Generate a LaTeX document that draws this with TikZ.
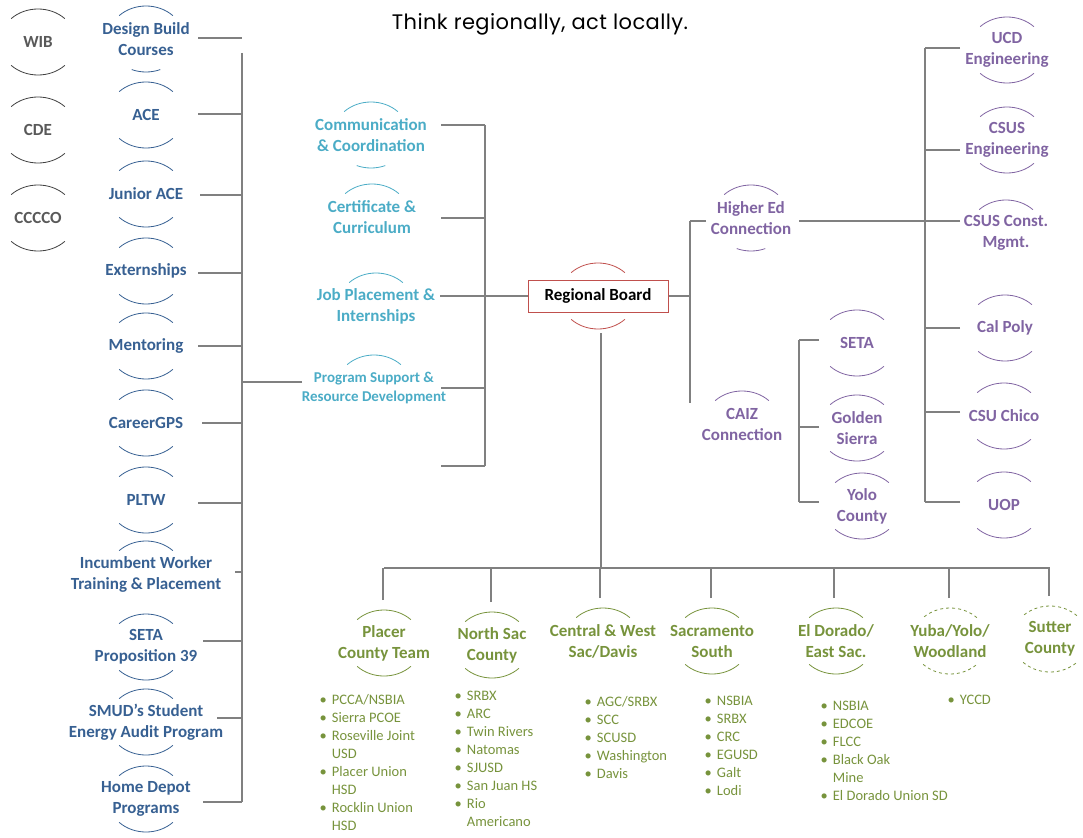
\documentclass[tikz,border=0pt]{standalone}
\usepackage{fontspec}
\setmainfont{Carlito}
\newfontfamily\titlefont[LetterSpace=2]{Poppins}
\definecolor{navy}{RGB}{55,96,146}
\definecolor{aqua}{RGB}{75,172,198}
\definecolor{plum}{RGB}{128,100,162}
\definecolor{leaf}{RGB}{119,147,60}
\definecolor{brick}{RGB}{192,80,77}
\definecolor{slate}{RGB}{89,89,89}
\definecolor{wire}{RGB}{128,128,128}

\tikzset{
  box/.style={font=\bfseries\fontsize{17}{21}\selectfont, align=center, inner sep=0pt},
  link/.style={draw=wire, line width=1.2pt},
  arcline/.style={line width=0.8pt},
  list/.style={text=leaf, font=\fontsize{14.5}{18}\selectfont, inner sep=0pt, anchor=north west},
}
% arcs above and below a node
\newcommand{\topcap}[2]{\draw[arcline,#2] ([shift={(45:38pt and 33pt)}]#1.center) arc[start angle=45,end angle=135,x radius=38pt,y radius=33pt];}
\newcommand{\botcap}[2]{\draw[arcline,#2] ([shift={(225:38pt and 33pt)}]#1.center) arc[start angle=225,end angle=315,x radius=38pt,y radius=33pt];}
\newcommand{\botnarrow}[2]{\draw[arcline,#2] ([shift={(248:38pt and 33pt)}]#1.center) arc[start angle=248,end angle=292,x radius=38pt,y radius=33pt];}
\newcommand{\ring}[2]{\topcap{#1}{#2}\botcap{#1}{#2}}
\newcommand{\li}[1]{\textbullet & #1\\}
\newcommand{\lc}[1]{& #1\\}

\begin{document}
\begin{tikzpicture}[x=1pt,y=-1pt]
  \useasboundingbox (0,0) rectangle (1083,837);

  \node[font=\titlefont\fontsize{21}{25}\selectfont] (title) at (540,24) {Think regionally, act locally.};

  % partners
  \node[box, text=slate] (wib) at (38,42) {WIB};
  \node[box, text=slate] (cde) at (38,130) {CDE};
  \node[box, text=slate] (cccco) at (38,218) {CCCCO};

  % programs
  \node[box, text=navy] (design) at (146,39) {Design Build\\Courses};
  \node[box, text=navy] (ace) at (146,115) {ACE};
  \node[box, text=navy] (junior) at (146,194) {Junior ACE};
  \node[box, text=navy] (extern) at (146,271) {Externships};
  \node[box, text=navy] (mentor) at (146,346) {Mentoring};
  \node[box, text=navy] (career) at (146,423) {CareerGPS};
  \node[box, text=navy] (pltw) at (146,500) {PLTW};
  \node[box, text=navy] (incumb) at (146,574) {Incumbent Worker\\Training \& Placement};
  \node[box, text=navy] (seta39) at (146,647) {SETA\\Proposition 39};
  \node[box, text=navy] (smud) at (146,722) {SMUD’s Student\\Energy Audit Program};
  \node[box, text=navy] (home) at (146,799) {Home Depot\\Programs};

  % committees
  \node[box, text=aqua] (comm) at (371,135) {Communication\\\& Coordination};
  \node[box, text=aqua] (cert) at (372,217) {Certificate \&\\Curriculum};
  \node[box, text=aqua] (job) at (376,306) {Job Placement \&\\Internships};
  \node[box, text=aqua, font=\bfseries\fontsize{15}{19}\selectfont] (prog) at (374,388) {Program Support \&\\Resource Development};

  \node[box, text=black, draw=brick, line width=1pt, fill=white, minimum width=140pt, minimum height=32pt] (board) at (598,296) {Regional Board};

  % higher ed
  \node[box, text=plum] (higher) at (751,218) {Higher Ed\\Connection};
  \node[box, text=plum] (caiz) at (742,424) {CAIZ\\Connection};
  \node[box, text=plum] (ucd) at (1007,50) {UCD\\Engineering};
  \node[box, text=plum] (csuseng) at (1007,140) {CSUS\\Engineering};
  \node[box, text=plum] (csuscm) at (1006,233) {CSUS Const.\\Mgmt.};
  \node[box, text=plum] (calpoly) at (1005,328) {Cal Poly};
  \node[box, text=plum] (chico) at (1004,416) {CSU Chico};
  \node[box, text=plum] (uop) at (1004,505) {UOP};
  \node[box, text=plum] (seta) at (857,343) {SETA};
  \node[box, text=plum] (golden) at (857,428) {Golden\\Sierra};
  \node[box, text=plum] (yolo) at (862,506) {Yolo\\County};

  % local teams
  \node[box, text=leaf] (placer) at (384,643) {Placer\\County Team};
  \node[box, text=leaf] (northsac) at (492,645) {North Sac\\County};
  \node[box, text=leaf] (central) at (603,641) {Central \& West\\Sac/Davis};
  \node[box, text=leaf] (sacsouth) at (712,641) {Sacramento\\South};
  \node[box, text=leaf] (eldorado) at (836,641) {El Dorado/\\East Sac.};
  \node[box, text=leaf] (yuba) at (950,641) {Yuba/Yolo/\\Woodland};
  \node[box, text=leaf] (sutter) at (1050,639) {Sutter\\County};

  \node[list] (placerlist) at (319.5,692) {\begin{tabular}{@{}l@{\hspace{5pt}}l@{}}
    \li{PCCA/NSBIA}\li{Sierra PCOE}\li{Roseville Joint}\lc{USD}\li{Placer Union}\lc{HSD}\li{Rocklin Union}\lc{HSD}\end{tabular}};
  \node[list] (northlist) at (454.5,688) {\begin{tabular}{@{}l@{\hspace{5pt}}l@{}}
    \li{SRBX}\li{ARC}\li{Twin Rivers}\li{Natomas}\li{SJUSD}\li{San Juan HS}\li{Rio}\lc{Americano}\end{tabular}};
  \node[list] (centrallist) at (584.5,694) {\begin{tabular}{@{}l@{\hspace{5pt}}l@{}}
    \li{AGC/SRBX}\li{SCC}\li{SCUSD}\li{Washington}\li{Davis}\end{tabular}};
  \node[list] (southlist) at (704.5,693) {\begin{tabular}{@{}l@{\hspace{5pt}}l@{}}
    \li{NSBIA}\li{SRBX}\li{CRC}\li{EGUSD}\li{Galt}\li{Lodi}\end{tabular}};
  \node[list] (eastlist) at (820.5,698) {\begin{tabular}{@{}l@{\hspace{5pt}}l@{}}
    \li{NSBIA}\li{EDCOE}\li{FLCC}\li{Black Oak}\lc{Mine}\li{El Dorado Union SD}\end{tabular}};
  \node[list] (yubalist) at (947.5,692) {\begin{tabular}{@{}l@{\hspace{5pt}}l@{}}
    \li{YCCD}\end{tabular}};

  % arcs
  \foreach \n in {wib,cde,cccco} {\ring{\n}{black!75}}
  \foreach \n in {ace,junior,extern,mentor,career,pltw,seta39,smud,home} {\ring{\n}{navy}}
  \topcap{design}{navy} \botnarrow{design}{navy}
  \topcap{incumb}{navy}
  \topcap{comm}{aqua} \botnarrow{comm}{aqua}
  \foreach \n in {cert,job,prog} {\topcap{\n}{aqua}}
  \ring{board}{brick}
  \foreach \n in {ucd,csuseng,calpoly,chico,uop,seta,golden,yolo} {\ring{\n}{plum}}
  \topcap{csuscm}{plum} \topcap{caiz}{plum}
  \topcap{higher}{plum} \botnarrow{higher}{plum}
  \foreach \n in {placer,northsac,sacsouth,eldorado} {\ring{\n}{leaf}}
  \topcap{central}{leaf}
  \ring{yuba}{leaf,dashed}
  \ring{sutter}{leaf,dashed}

  % left bus
  \coordinate (ltop) at (242,53);
  \coordinate (lbot) at (242,802);
  \draw[link] (ltop) -- (lbot);
  \foreach \n/\dx/\dy in {design/52/-1, ace/52/-1, junior/54/1, extern/52/2, mentor/52/0, career/56/0, pltw/52/3, incumb/89/-2, seta39/57/-6, smud/71/-4, home/57/3}
    {\coordinate (s) at ([shift={(\dx,\dy)}]\n.center); \draw[link] (s) -- (s -| ltop);}
  \coordinate (p) at ([shift={(-72,-6)}]prog.center);
  \draw[link] (p) -- (p -| ltop);

  % middle bus
  \coordinate (mtop) at (485,125);
  \coordinate (mbot) at (485,466);
  \coordinate (blank) at (441,466);
  \draw[link] (mtop) -- (mbot);
  \foreach \n/\dx/\dy in {comm/70/-10, cert/69/1, job/64/-10, prog/67/0}
    {\coordinate (s) at ([shift={(\dx,\dy)}]\n.center); \draw[link] (s) -- (s -| mtop);}
  \draw[link] (blank) -- (blank -| mtop);
  \draw[link] (board.west) -- (board.west -| mtop);

  % higher ed
  \coordinate (htop) at (690,221);
  \coordinate (hbot) at (690,403);
  \draw[link] (htop) -- (hbot);
  \draw[link] (board.east) -- (board.east -| htop);
  \coordinate (h) at ([shift={(-45,3)}]higher.center);
  \draw[link] (h) -- (h -| htop);
  \draw[link] ([shift={(48,3)}]higher.center) -- ([shift={(-46,-12)}]csuscm.center);
  \coordinate (rtop) at (925,48);
  \coordinate (rbot) at (925,502);
  \draw[link] (rtop) -- (rbot);
  \foreach \n/\dx/\dy in {ucd/-47/-2, csuseng/-47/10, csuscm/-46/-12, calpoly/-45/0, chico/-44/-4, uop/-44/-3}
    {\coordinate (s) at ([shift={(\dx,\dy)}]\n.center); \draw[link] (s) -- (s -| rtop);}
  \coordinate (ctop) at (799,340);
  \coordinate (cbot) at (799,502);
  \draw[link] (ctop) -- (cbot);
  \foreach \n/\dx/\dy in {seta/-38/-3, golden/-38/-1, yolo/-43/-4}
    {\coordinate (s) at ([shift={(\dx,\dy)}]\n.center); \draw[link] (s) -- (s -| ctop);}

  % local teams
  \coordinate (bdrop) at ([shift={(3,37)}]board.center);
  \coordinate (bbus) at (601,568);
  \draw[link] (bdrop) -- (bbus);
  \draw[link] (bbus -| placer.center) -- (bbus -| sutter.center);
  \foreach \n/\dx in {placer/-1, northsac/-1, central/-3, sacsouth/-1, eldorado/-2, yuba/-1, sutter/-1}
    {\coordinate (s) at ([shift={(\dx,-43)}]\n.center); \draw[link] (s) -- (s |- bbus);}
\end{tikzpicture}
\end{document}
